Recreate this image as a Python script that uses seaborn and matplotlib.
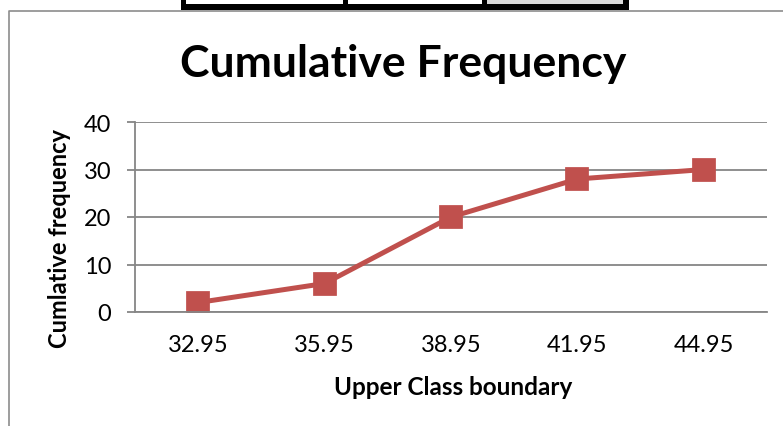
import matplotlib
matplotlib.use("Agg")
import matplotlib.pyplot as plt
import seaborn as sns
from matplotlib.patches import Rectangle
from matplotlib.lines import Line2D

# chart data
boundaries = ["32.95", "35.95", "38.95", "41.95", "44.95"]
cum_freq = [2, 6, 20, 28, 30]
y_ticks = [0, 10, 20, 30, 40]

sns.set_style("white")
plt.rcParams['font.family'] = ['Lato', 'DejaVu Sans']
plt.rcParams['text.color'] = 'black'

W, H = 783, 427
fig = plt.figure(figsize=(W / 100, H / 100), dpi=100)

# fragment of a table above the chart
black = "#000000"
fig.patches.append(Rectangle((487 / W, 1 - 5 / H), 136 / W, 5 / H,
                             transform=fig.transFigure, facecolor="#d9d9d9",
                             edgecolor="none"))
for x0, x1 in [(181, 186), (343, 348), (482, 487), (623, 629)]:
    fig.patches.append(Rectangle((x0 / W, 1 - 11 / H), (x1 - x0) / W, 11 / H,
                                 transform=fig.transFigure, facecolor=black,
                                 edgecolor="none"))
fig.patches.append(Rectangle((181 / W, 1 - 11 / H), 448 / W, 6 / H,
                             transform=fig.transFigure, facecolor=black,
                             edgecolor="none"))

# chart border
fig.lines.append(Line2D([8.5 / W, 8.5 / W, 1], [0, 1 - 11.5 / H, 1 - 11.5 / H],
                        transform=fig.transFigure, color="#8c8c8c", linewidth=1.2))

ax = fig.add_axes([135 / W, 114 / H, 632 / W, 190 / H])

sns.pointplot(x=boundaries, y=cum_freq, ax=ax, color="#C0504D",
              markers="s", linewidth=3.6, markersize=14, errorbar=None)
for coll in ax.collections:
    coll.set_edgecolor("#C0504D")

ax.set_ylim(0, 40)
ax.set_yticks(y_ticks)
ax.set_xlim(-0.5, len(boundaries) - 0.5)

grey = "#868686"
ax.yaxis.grid(True, color=grey, linewidth=1.3)
ax.set_axisbelow(True)
for side in ["top", "right"]:
    ax.spines[side].set_visible(False)
for side in ["left", "bottom"]:
    ax.spines[side].set_color(grey)
    ax.spines[side].set_linewidth(1.3)

ax.tick_params(axis="y", which="both", left=True, length=6, width=1.3,
               color=grey, labelsize=17, pad=11)
ax.tick_params(axis="x", bottom=False, labelsize=17, pad=12)
for lbl in ax.get_xticklabels() + ax.get_yticklabels():
    lbl.set_color("#000000")

ax.set_xlabel("")
ax.set_ylabel("")
fig.text(453 / W, 1 - 388 / H, "Upper Class boundary", ha="center", va="center",
         fontsize=17.5, fontweight="bold")
fig.text(60 / W, 1 - 239 / H, "Cumlative frequency", ha="center", va="center",
         rotation=90, fontsize=17, fontweight="bold")
fig.text(403 / W, 1 - 64 / H, "Cumulative Frequency", ha="center", va="center",
         fontsize=32, fontweight="bold")

fig.savefig("out.png", dpi=100)
